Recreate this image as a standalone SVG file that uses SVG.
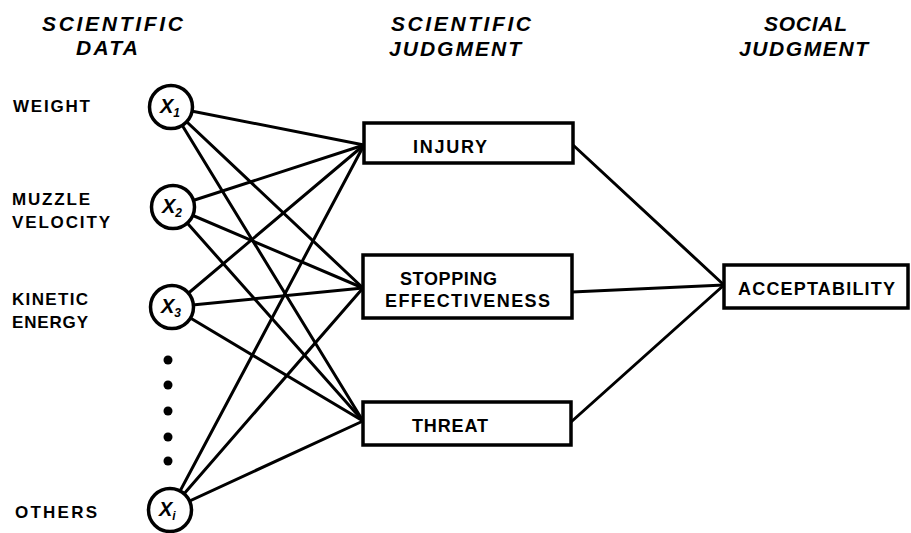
<svg xmlns="http://www.w3.org/2000/svg" width="911" height="533" viewBox="0 0 911 533">
  <style>
    .hdr { font-family: "Liberation Sans", Arial, sans-serif; font-weight: 700; font-style: italic; font-size: 21px; fill: #000; }
    .lbl { font-family: "Liberation Sans", Arial, sans-serif; font-weight: 700; font-size: 17px; fill: #000; }
    .box { fill: #fff; stroke: #000; stroke-width: 3.5; }
    .btxt { font-family: "Liberation Sans", Arial, sans-serif; font-weight: 700; font-size: 18px; fill: #000; }
    .node { fill: #fff; stroke: #000; stroke-width: 3.5; }
    .xv { font-family: "Liberation Sans", Arial, sans-serif; font-weight: 700; font-style: italic; font-size: 20px; fill: #000; }
    .xs { font-size: 12px; }
    .conn line { stroke: #000; stroke-width: 3; stroke-linecap: round; }
    .dot { fill: #000; }
  </style>

  <g id="headers">
    <text class="hdr" x="42" y="31" textLength="141" lengthAdjust="spacing">SCIENTIFIC</text>
    <text class="hdr" x="76" y="55" textLength="62" lengthAdjust="spacing">DATA</text>
    <text class="hdr" x="391" y="31" textLength="140" lengthAdjust="spacing">SCIENTIFIC</text>
    <text class="hdr" x="389" y="56" textLength="132" lengthAdjust="spacing">JUDGMENT</text>
    <text class="hdr" x="764" y="31" textLength="83" lengthAdjust="spacing">SOCIAL</text>
    <text class="hdr" x="739" y="56" textLength="129" lengthAdjust="spacing">JUDGMENT</text>
  </g>

  <g id="labels">
    <text class="lbl" x="13" y="112" textLength="77" lengthAdjust="spacing">WEIGHT</text>
    <text class="lbl" x="12" y="205" textLength="78" lengthAdjust="spacing">MUZZLE</text>
    <text class="lbl" x="12" y="228" textLength="98" lengthAdjust="spacing">VELOCITY</text>
    <text class="lbl" x="12" y="305" textLength="76" lengthAdjust="spacing">KINETIC</text>
    <text class="lbl" x="12" y="328" textLength="76" lengthAdjust="spacing">ENERGY</text>
    <text class="lbl" x="15" y="518" textLength="82" lengthAdjust="spacing">OTHERS</text>
  </g>

  <g id="connectors" class="conn">
    <line x1="171" y1="107" x2="364" y2="145"/>
    <line x1="171" y1="107" x2="363" y2="288"/>
    <line x1="171" y1="107" x2="363" y2="421"/>
    <line x1="173" y1="207" x2="364" y2="145"/>
    <line x1="173" y1="207" x2="363" y2="288"/>
    <line x1="173" y1="207" x2="363" y2="421"/>
    <line x1="172" y1="307" x2="364" y2="145"/>
    <line x1="172" y1="307" x2="363" y2="288"/>
    <line x1="172" y1="307" x2="363" y2="421"/>
    <line x1="170" y1="510" x2="364" y2="145"/>
    <line x1="170" y1="510" x2="363" y2="288"/>
    <line x1="170" y1="510" x2="363" y2="421"/>
    <line x1="573" y1="145" x2="724" y2="285"/>
    <line x1="572" y1="292" x2="724" y2="285"/>
    <line x1="571" y1="422" x2="724" y2="285"/>
  </g>

  <g id="x1">
    <circle class="node" cx="171" cy="107" r="21.5"/>
    <text class="xv" x="160" y="113">X<tspan class="xs" dy="4">1</tspan></text>
  </g>
  <g id="x2">
    <circle class="node" cx="173" cy="207" r="21.5"/>
    <text class="xv" x="162" y="213">X<tspan class="xs" dy="4">2</tspan></text>
  </g>
  <g id="x3">
    <circle class="node" cx="172" cy="307" r="21.5"/>
    <text class="xv" x="161" y="313">X<tspan class="xs" dy="4">3</tspan></text>
  </g>
  <g id="ellipsis">
    <circle class="dot" cx="168" cy="360" r="4.5"/>
    <circle class="dot" cx="168" cy="385" r="4.5"/>
    <circle class="dot" cx="168" cy="411" r="4.5"/>
    <circle class="dot" cx="168" cy="437" r="4.5"/>
    <circle class="dot" cx="168" cy="461" r="4.5"/>
  </g>
  <g id="xi">
    <circle class="node" cx="170" cy="510" r="21.5"/>
    <text class="xv" x="159" y="516">X<tspan class="xs" dy="4">i</tspan></text>
  </g>

  <g id="injury">
    <rect class="box" x="364" y="123" width="209" height="40"/>
    <text class="btxt" x="413" y="153" textLength="74" lengthAdjust="spacing">INJURY</text>
  </g>
  <g id="stopping">
    <rect class="box" x="363" y="255" width="209" height="63"/>
    <text class="btxt" x="400" y="285" textLength="97" lengthAdjust="spacing">STOPPING</text>
    <text class="btxt" x="385" y="307" textLength="165" lengthAdjust="spacing">EFFECTIVENESS</text>
  </g>
  <g id="threat">
    <rect class="box" x="363" y="402" width="208" height="43"/>
    <text class="btxt" x="412" y="432" textLength="76" lengthAdjust="spacing">THREAT</text>
  </g>
  <g id="acceptability">
    <rect class="box" x="724" y="265" width="184" height="43"/>
    <text class="btxt" x="738" y="295" textLength="157" lengthAdjust="spacing">ACCEPTABILITY</text>
  </g>
</svg>
